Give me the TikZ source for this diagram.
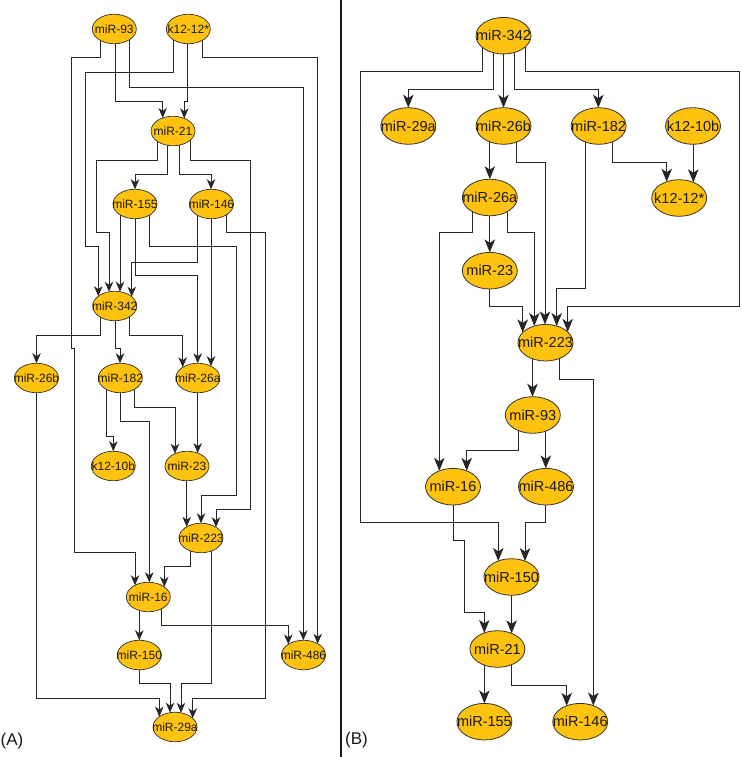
\documentclass[tikz,border=0pt]{standalone}
\usepackage{fontspec}
\setmainfont{Liberation Sans}
\usetikzlibrary{shapes.geometric,arrows.meta,calc}
\pgfdeclarelayer{bg}
\pgfdeclarelayer{paper}
\pgfsetlayers{paper,bg,main}
\definecolor{gold}{RGB}{255,194,14}
\definecolor{ink}{RGB}{25,25,25}

\newcommand\gnode[5]{%
  \node[#1] (#2) at (#3,#4) {\makebox[0pt]{#5}};%
  \expandafter\xdef\csname cx@#2\endcsname{#3}%
  \expandafter\xdef\csname rx@#2\endcsname{\curRX}%
  \expandafter\xdef\csname ry@#2\endcsname{\curRY}%
}
\newcommand\edge[5]{%
  \pgfmathsetmacro\dxs{#2-\csname cx@#1\endcsname}%
  \pgfmathsetmacro\dxt{#5-\csname cx@#4\endcsname}%
  \pgfmathsetmacro\dyt{-\csname ry@#4\endcsname*sqrt(1-(\dxt/\csname rx@#4\endcsname)^2)}%
  \begin{pgfonlayer}{bg}%
  \draw[curedge] ([xshift=\dxs pt]#1.center) #3 -- ([shift={(\dxt,\dyt)}]#4.center);%
  \end{pgfonlayer}%
}

\tikzset{
  nA/.style={ellipse, draw=black!80, line width=0.7pt, fill=gold, text=ink,
    minimum width=44pt, minimum height=29.5pt, inner sep=0pt,
    font=\fontsize{12}{14}\selectfont},
  nB/.style={ellipse, draw=black!80, line width=0.8pt, fill=gold, text=ink,
    minimum width=55pt, minimum height=36.6pt, inner sep=0pt,
    font=\fontsize{14.5}{17}\selectfont},
  edgeA/.style={draw=black!85, line width=0.9pt, -{Stealth[length=10pt,width=8.5pt,inset=3pt]}},
  edgeB/.style={draw=black!85, line width=1pt, -{Stealth[length=13pt,width=10.5pt,inset=3.5pt]}},
  lab/.style={anchor=west, inner sep=0pt, text=ink, font=\fontsize{17}{19}\selectfont},
}

\begin{document}
\begin{tikzpicture}[x=1pt,y=-1pt]
\useasboundingbox (0,0) rectangle (741,757);
\begin{pgfonlayer}{paper}
\fill[white] (0,0) rectangle (741,757);
\end{pgfonlayer}

% divider
\draw[line width=2pt, black!90] (340.5,0) -- (340.5,757);

% ---------------- Panel A ----------------
\def\curRX{22}\def\curRY{14.75}
\tikzset{curedge/.style={edgeA}}
\gnode{nA}{a93}{114.3}{29}{miR-93}
\gnode{nA}{ak1212}{188.3}{29}{k12-12*}
\gnode{nA}{a21}{173}{131}{miR-21}
\gnode{nA}{a155}{135}{204}{miR-155}
\gnode{nA}{a146}{211.5}{204}{miR-146}
\gnode{nA}{a342}{114.7}{306}{miR-342}
\gnode{nA}{a26b}{36.5}{378}{miR-26b}
\gnode{nA}{a182}{120.3}{378}{miR-182}
\gnode{nA}{a26a}{197.8}{378}{miR-26a}
\gnode{nA}{ak1210}{113.3}{466}{k12-10b}
\gnode{nA}{a23}{187}{466}{miR-23}
\gnode{nA}{a223}{201}{538}{miR-223}
\gnode{nA}{a16}{148.3}{597}{miR-16}
\gnode{nA}{a150}{139.3}{655}{miR-150}
\gnode{nA}{a486}{303.5}{655}{miR-486}
\gnode{nA}{a29a}{175}{727}{miR-29a}

\edge{a93}{100.7}{|- (71,57.7) |- (74.3,348.3) |- (135,552.7)}{a16}{135}
\edge{a93}{115}{|- (162.7,101.7)}{a21}{162.7}
\edge{a93}{129}{|- (303.3,87.3)}{a486}{303.3}
\edge{ak1212}{173.3}{|- (85.7,72.7) |- (98.3,246.7)}{a342}{98.3}
\edge{ak1212}{187.7}{|- (184.3,101.7)}{a21}{184.3}
\edge{ak1212}{202.7}{|- (317.7,57.7)}{a486}{317.7}
\edge{a21}{157.3}{|- (96.7,160) |- (109,232.7)}{a342}{109}
\edge{a21}{167.7}{|- (135,174)}{a155}{135}
\edge{a21}{179.3}{|- (211,174)}{a146}{211}
\edge{a21}{190}{|- (250,160) |- (216,509.3)}{a223}{216}
\edge{a155}{120}{}{a342}{120}
\edge{a155}{135}{|- (197.7,275)}{a26a}{197.7}
\edge{a155}{149.3}{|- (236,246.7) |- (201,495)}{a223}{201}
\edge{a146}{197.7}{|- (131.7,262.7)}{a342}{131.7}
\edge{a146}{211}{}{a26a}{211}
\edge{a146}{226.7}{|- (265,232.7) |- (192.7,698.3)}{a29a}{192.7}
\edge{a342}{100}{|- (36.5,335)}{a26b}{36.5}
\edge{a342}{115}{|- (120,348.3)}{a182}{120}
\edge{a342}{129.3}{|- (182.7,335)}{a26a}{182.7}
\edge{a26b}{36.5}{|- (159.3,698.3)}{a29a}{159.3}
\edge{a182}{106}{|- (113.3,436)}{ak1210}{113.3}
\edge{a182}{120}{|- (149.3,421.7)}{a16}{149.3}
\edge{a182}{134.3}{|- (175,407.7)}{a23}{175}
\edge{a26a}{197.7}{}{a23}{197.7}
\edge{a23}{186.7}{}{a223}{186.7}
\edge{a223}{190}{|- (164.3,566.7)}{a16}{164.3}
\edge{a223}{211.7}{|- (181,683.3)}{a29a}{181}
\edge{a16}{139.3}{}{a150}{139.3}
\edge{a16}{161}{|- (288.3,625.7)}{a486}{288.3}
\edge{a150}{139.3}{|- (170,683.3)}{a29a}{170}

\node[lab] (labA) at (0.5,741) {(A)};

% ---------------- Panel B ----------------
\def\curRX{27.5}\def\curRY{18.3}
\tikzset{curedge/.style={edgeB}}
\gnode{nB}{b342}{503.5}{35.7}{miR-342}
\gnode{nB}{b29a}{408.3}{126}{miR-29a}
\gnode{nB}{b26b}{503.5}{126}{miR-26b}
\gnode{nB}{b182}{598.6}{126}{miR-182}
\gnode{nB}{bk1210}{693}{126}{k12-10b}
\gnode{nB}{b26a}{489.8}{197.5}{miR-26a}
\gnode{nB}{bk1212}{679.2}{198}{k12-12*}
\gnode{nB}{b23}{489.8}{270.7}{miR-23}
\gnode{nB}{b223}{545.5}{342.7}{miR-223}
\gnode{nB}{b93}{532.8}{415}{miR-93}
\gnode{nB}{b16}{453}{486.7}{miR-16}
\gnode{nB}{b486}{546}{486.7}{miR-486}
\gnode{nB}{b150}{511.5}{577}{miR-150}
\gnode{nB}{b21}{497.4}{649}{miR-21}
\gnode{nB}{b155}{484.4}{721.7}{miR-155}
\gnode{nB}{b146}{580.2}{721.7}{miR-146}

\edge{b342}{482.3}{|- (360.7,71.7) |- (498.3,522.7)}{b150}{498.3}
\edge{b342}{493.3}{|- (408.3,90)}{b29a}{408.3}
\edge{b342}{503.5}{}{b26b}{503.5}
\edge{b342}{514}{|- (598.3,90)}{b182}{598.3}
\edge{b342}{525}{|- (739.3,71.7) |- (567.7,306)}{b223}{567.7}
\edge{b26b}{489.8}{}{b26a}{489.8}
\edge{b26b}{516.7}{|- (545,162.7)}{b223}{545}
\edge{b182}{585.7}{|- (556.7,288.3)}{b223}{556.7}
\edge{b182}{612.7}{|- (666.7,162.7)}{bk1212}{666.7}
\edge{bk1210}{693.3}{}{bk1212}{693.3}
\edge{b26a}{472.7}{|- (439.3,232.7)}{b16}{439.3}
\edge{b26a}{489.8}{}{b23}{489.8}
\edge{b26a}{507.7}{|- (534.3,232.7)}{b223}{534.3}
\edge{b23}{489.3}{|- (522.7,306)}{b223}{522.7}
\edge{b223}{532.5}{}{b93}{532.5}
\edge{b223}{559}{|- (593.3,379.3)}{b146}{593.3}
\edge{b93}{518.3}{|- (466.7,450.7)}{b16}{466.7}
\edge{b93}{545.8}{}{b486}{545.8}
\edge{b16}{453.3}{|- (464,540.7) |- (484.3,612.3)}{b21}{484.3}
\edge{b486}{545.8}{|- (525,522.7)}{b150}{525}
\edge{b150}{511.6}{}{b21}{511.6}
\edge{b21}{484.4}{}{b155}{484.4}
\edge{b21}{511.7}{|- (566.7,685)}{b146}{566.7}

\node[lab] (labB) at (345,740.5) {(B)};
\end{tikzpicture}
\end{document}
